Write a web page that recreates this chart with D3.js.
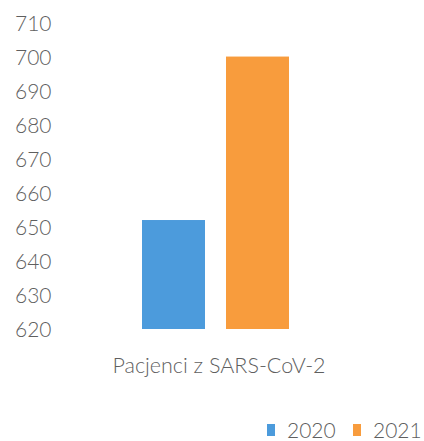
<!DOCTYPE html>
<html>
<head>
<meta charset="utf-8">
<script src="https://cdn.jsdelivr.net/npm/d3@7"></script>
<style>
  html, body { margin: 0; padding: 0; background: #fff; }
  svg { display: block; }
  text { font-family: Lato, "Open Sans", sans-serif; font-weight: 300; fill: #5f5f5f; }
</style>
</head>
<body>
<svg id="chart" width="424" height="441"></svg>
<script>
// Patients with SARS-CoV-2, by year
const categories = ["Pacjenci z SARS-CoV-2"];
const seriesNames = ["2020", "2021"];
const values2020 = [652];
const values2021 = [700];
const yTicks = [620, 630, 640, 650, 660, 670, 680, 690, 700, 710];
const colors = ["#4c9bdc", "#f89c3d"];

const svg = d3.select("#chart");

const y = d3.scaleLinear().domain([620, 710]).range([329, 22.5]);
const x0 = d3.scaleBand().domain(categories).range([108, 330]).padding(0);
const x1 = d3.scaleBand().domain(seriesNames).range([34, 181]).paddingInner(0.25).paddingOuter(0);

// y axis labels (no line, no ticks)
const yAxis = d3.axisLeft(y).tickValues(yTicks).tickSize(0).tickPadding(0);
const gy = svg.append("g").attr("transform", "translate(15,0)").call(yAxis);
gy.select(".domain").remove();
gy.selectAll("text")
  .attr("text-anchor", "start")
  .attr("x", 0)
  .attr("dy", "0.36em")
  .style("font-size", "21px")
  .style("font-family", "Lato, 'Open Sans', sans-serif")
  .attr("fill", "#666");

// bars
const seriesValues = [values2020, values2021];
categories.forEach((c, ci) => {
  seriesNames.forEach((s, si) => {
    const v = seriesValues[si][ci];
    svg.append("rect")
      .attr("x", x0(c) + x1(s))
      .attr("y", y(v))
      .attr("width", x1.bandwidth())
      .attr("height", y(620) - y(v))
      .attr("fill", colors[si]);
  });
});

// category label
svg.selectAll(".cat").data(categories).enter().append("text")
  .attr("class", "cat")
  .attr("x", d => x0(d) + x0.bandwidth() / 2)
  .attr("y", 373)
  .attr("text-anchor", "middle")
  .style("font-size", "21.5px")
  .text(d => d);

// legend
const legend = svg.append("g").attr("transform", "translate(267,438)");
const legendX = [0, 86];
seriesNames.forEach((s, i) => {
  const g = legend.append("g").attr("transform", `translate(${legendX[i]},0)`);
  g.append("rect").attr("x", 0).attr("y", -14).attr("width", 8).attr("height", 12).attr("fill", colors[i]);
  g.append("text").attr("x", 20).attr("y", 0).style("font-size", "21px").text(s);
});
</script>
</body>
</html>
